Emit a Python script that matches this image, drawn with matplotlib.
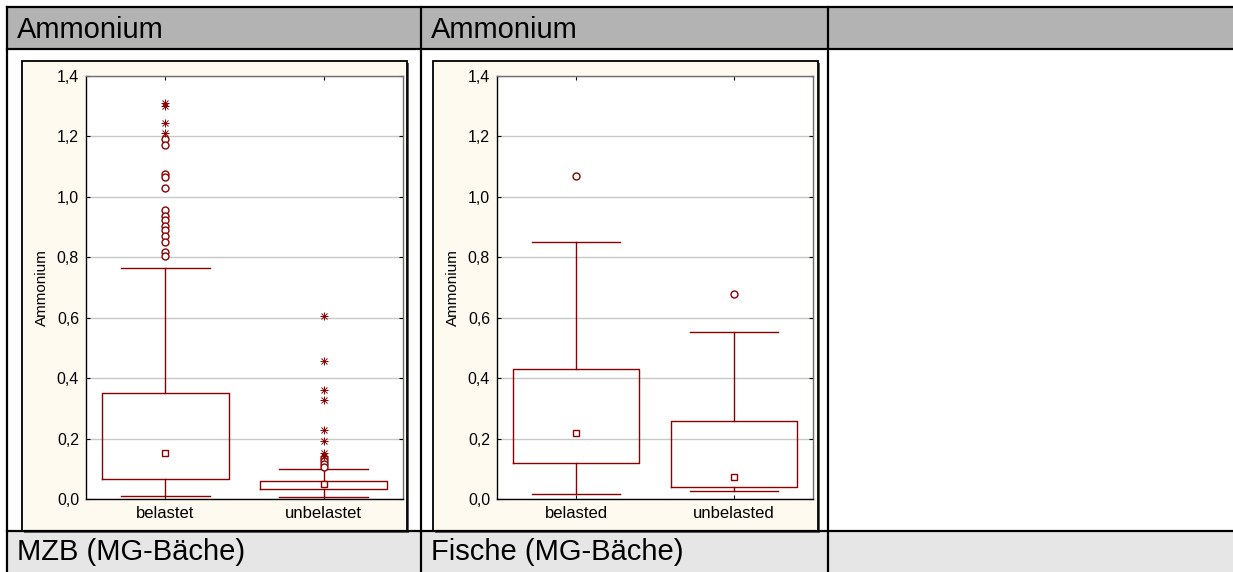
import matplotlib.pyplot as plt
from matplotlib.patches import Rectangle
from matplotlib.lines import Line2D

plt.rcParams['font.family'] = ['Liberation Sans', 'DejaVu Sans']

# MZB (MG-Baeche): Ammonium per group
mzb_groups = ['belastet', 'unbelastet']
mzb_q1 = [0.065, 0.033]
mzb_q3 = [0.35, 0.058]
mzb_med = [0.151, 0.049]
mzb_lo = [0.01, 0.008]
mzb_hi = [0.764, 0.099]
mzb_outliers = [
    [1.19, 1.17, 1.075, 1.065, 1.03, 0.957, 0.935, 0.925, 0.902, 0.89, 0.87, 0.85, 0.818, 0.805],
    [0.135, 0.125, 0.115, 0.107],
]
mzb_extremes = [
    [1.31, 1.302, 1.244, 1.212],
    [0.607, 0.458, 0.361, 0.327, 0.228, 0.192, 0.152, 0.142],
]

# Fische (MG-Baeche)
fish_groups = ['belasted', 'unbelasted']
fish_q1 = [0.12, 0.041]
fish_q3 = [0.429, 0.259]
fish_med = [0.218, 0.072]
fish_lo = [0.017, 0.025]
fish_hi = [0.85, 0.552]
fish_outliers = [[1.068], [0.678]]
fish_extremes = [[], []]

yticks = [0.0, 0.2, 0.4, 0.6, 0.8, 1.0, 1.2, 1.4]
ytick_labels = ['0,0', '0,2', '0,4', '0,6', '0,8', '1,0', '1,2', '1,4']

header_titles = ['Ammonium', 'Ammonium', '']
footer_titles = ['MZB (MG-Bäche)', 'Fische (MG-Bäche)', '']

W, H = 1233, 572
RED = '#8b0000'


def fx(x):
    return x / W


def fy(y):
    return 1 - y / H


fig = plt.figure(figsize=(W / 100, H / 100), dpi=100)
fig.patch.set_facecolor('white')

# table rows
fig.add_artist(Rectangle((fx(7), fy(49)), (W - 7) / W, 42 / H, transform=fig.transFigure,
                         facecolor='#b3b3b3', edgecolor='none', zorder=0))
fig.add_artist(Rectangle((fx(7), fy(572)), (W - 7) / W, 41 / H, transform=fig.transFigure,
                         facecolor='#e6e6e6', edgecolor='none', zorder=0))

col_left = [7, 421, 828]
for x0, txt in zip(col_left, header_titles):
    fig.text(fx(x0 + 10), fy(30), txt, fontsize=21, va='center', ha='left')
for x0, txt in zip(col_left, footer_titles):
    fig.text(fx(x0 + 10), fy(552), txt, fontsize=21, va='center', ha='left')


def hline(y, x0=7, x1=W):
    fig.add_artist(Line2D([fx(x0), fx(x1)], [fy(y), fy(y)], transform=fig.transFigure,
                          color='black', lw=1.6, zorder=5))


def vline(x, y0=7, y1=H):
    fig.add_artist(Line2D([fx(x), fx(x)], [fy(y0), fy(y1)], transform=fig.transFigure,
                          color='black', lw=1.6, zorder=5))


def draw_panel(frame, plot, groups, q1, q3, med, lo, hi, outliers, extremes):
    fl, ft, fr, fb = frame
    # shadow and cream frame
    fig.add_artist(Rectangle((fx(fl + 2), fy(fb + 2)), (fr - fl) / W, (fb - ft) / H,
                             transform=fig.transFigure, facecolor='#606060',
                             edgecolor='none', zorder=1))
    fig.add_artist(Rectangle((fx(fl), fy(fb)), (fr - fl) / W, (fb - ft) / H,
                             transform=fig.transFigure, facecolor='#fffaef',
                             edgecolor='black', lw=1.3, zorder=2))

    pl, pt, pr, pb = plot
    ax = fig.add_axes([fx(pl), fy(pb), (pr - pl) / W, (pb - pt) / H], zorder=3)
    ax.set_facecolor('white')

    pos = [1, 2]
    stats = []
    for i in range(len(groups)):
        stats.append(dict(med=med[i], q1=q1[i], q3=q3[i], whislo=lo[i], whishi=hi[i],
                          fliers=[], label=groups[i]))
    ax.bxp(stats, positions=pos, widths=0.8, capwidths=0.56, showfliers=False,
           boxprops=dict(color=RED, lw=1.0),
           whiskerprops=dict(color=RED, lw=1.0),
           capprops=dict(color=RED, lw=1.0),
           medianprops=dict(lw=0), zorder=3)

    # median squares
    ax.plot(pos, med, ls='none', marker='s', ms=5, mfc='white', mec=RED, mew=1.0, zorder=4)

    for p, vals in zip(pos, outliers):
        ax.plot([p] * len(vals), vals, ls='none', marker='o', ms=5, mfc='white',
                mec=RED, mew=1.0, zorder=4)
    for p, vals in zip(pos, extremes):
        ax.plot([p] * len(vals), vals, ls='none', marker='+', ms=5.5, mec=RED, mew=0.7, zorder=4)
        ax.plot([p] * len(vals), vals, ls='none', marker='x', ms=4, mec=RED, mew=0.7, zorder=4)

    ax.set_xlim(0.5, 2.5)
    ax.set_ylim(0, 1.4)
    ax.set_yticks(yticks)
    ax.set_yticklabels(ytick_labels, fontsize=11.5)
    ax.set_xticks(pos)
    ax.set_xticklabels(groups, fontsize=12)
    ax.grid(axis='y', color='#c8c8c8', lw=1)
    ax.set_axisbelow(True)
    ax.tick_params(direction='in', length=3, top=True, right=True,
                   color='black', pad=5)
    ax.set_ylabel('Ammonium', fontsize=11, labelpad=6)
    for s in ['left', 'bottom']:
        ax.spines[s].set_color('black')
        ax.spines[s].set_linewidth(1.0)
    for s in ['top', 'right']:
        ax.spines[s].set_color('#707070')
        ax.spines[s].set_linewidth(1.0)
    return ax


draw_panel((22, 61, 407, 531), (86, 76, 403, 499), mzb_groups, mzb_q1, mzb_q3, mzb_med,
           mzb_lo, mzb_hi, mzb_outliers, mzb_extremes)
draw_panel((433, 61, 818, 531), (497, 76, 813, 499), fish_groups, fish_q1, fish_q3, fish_med,
           fish_lo, fish_hi, fish_outliers, fish_extremes)

# table grid lines
hline(7)
hline(49)
hline(531)
vline(7)
vline(421)
vline(828)

fig.savefig('out.png', dpi=100)
